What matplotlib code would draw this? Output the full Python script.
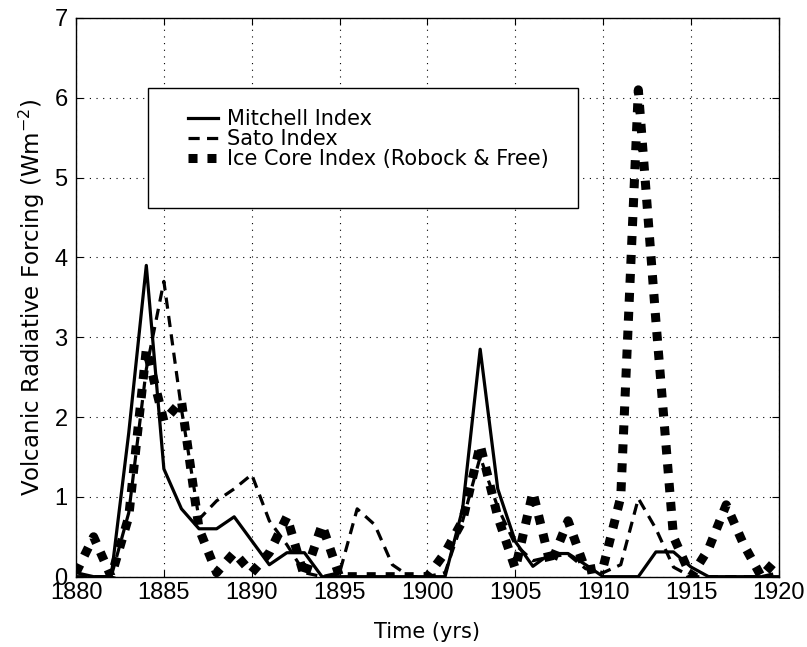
import matplotlib.pyplot as plt
import numpy as np
from matplotlib.patches import Rectangle

plt.rcParams['font.family'] = ['Liberation Sans', 'DejaVu Sans']
plt.rcParams['mathtext.default'] = 'regular'

years = np.arange(1880, 1921)

mitchell = [0.05, 0.0, 0.0, 1.8, 3.9, 1.35, 0.85, 0.6, 0.6, 0.75,
            0.45, 0.15, 0.3, 0.3, 0.0, 0.0, 0.0, 0.0, 0.0, 0.0,
            0.0, 0.0, 0.85, 2.85, 1.1, 0.44, 0.13, 0.29, 0.29, 0.15,
            0.0, 0.0, 0.0, 0.31, 0.31, 0.12, 0.0, 0.0, 0.0, 0.0, 0.0]

sato = [0.0, 0.0, 0.0, 0.8, 2.6, 3.7, 2.1, 0.72, 0.95, 1.1,
        1.28, 0.7, 0.4, 0.05, 0.0, 0.05, 0.85, 0.65, 0.15, 0.0,
        0.0, 0.05, 0.7, 1.5, 0.87, 0.4, 0.2, 0.25, 0.28, 0.1,
        0.05, 0.15, 0.98, 0.6, 0.12, 0.0, 0.0, 0.0, 0.0, 0.0, 0.05]

icecore = [0.05, 0.5, 0.0, 0.75, 2.85, 1.95, 2.2, 0.6, 0.05, 0.3,
           0.05, 0.3, 0.75, 0.0, 0.65, 0.0, 0.0, 0.0, 0.0, 0.0,
           0.0, 0.3, 0.7, 1.65, 0.75, 0.1, 1.06, 0.15, 0.7, 0.08,
           0.12, 1.0, 6.1, 3.2, 0.5, 0.0, 0.35, 0.9, 0.4, 0.0, 0.25]

labels = ['Mitchell Index', 'Sato Index', 'Ice Core Index (Robock & Free)']

fig = plt.figure(figsize=(8.07, 6.47), dpi=100)
ax = fig.add_axes([0.0942, 0.1087, 0.871, 0.8635])

ax.plot(years, mitchell, color='black', lw=2.3, label=labels[0])
ax.plot(years, sato, color='black', lw=2.3, dashes=(3.5, 2.3), label=labels[1])
ax.plot(years, icecore, color='black', lw=6.5, dashes=(1, 1.1), label=labels[2])

ax.set_xlim(1880, 1920)
ax.set_ylim(0, 7)
ax.set_xticks(np.arange(1880, 1921, 5))
ax.set_yticks(np.arange(0, 8, 1))
ax.grid(True, color='black', lw=0.8, dashes=(1, 5))
ax.tick_params(direction='in', length=5, top=True, right=True, labelsize=17)
ax.tick_params(axis='x', pad=4)
ax.tick_params(axis='y', pad=6)
for s in ax.spines.values():
    s.set_linewidth(1.0)

ax.set_xlabel('Time (yrs)', fontsize=15, family='DejaVu Sans', labelpad=13)
ax.set_ylabel('Volcanic Radiative Forcing (Wm$^{-2}$)', fontsize=16.5,
              family='DejaVu Sans', labelpad=5)

ax.add_patch(Rectangle((0.102, 0.66), 0.612, 0.215, transform=ax.transAxes,
                       facecolor='white', edgecolor='black', lw=1.0, zorder=4))
leg = ax.legend(loc='upper left', bbox_to_anchor=(0.159, 0.837), frameon=False,
                prop={'family': 'DejaVu Sans', 'size': 15},
                handlelength=1.45, handletextpad=0.42,
                labelspacing=0.0, borderpad=0, borderaxespad=0)
leg.set_zorder(5)

fig.savefig('out.png', dpi=100)
